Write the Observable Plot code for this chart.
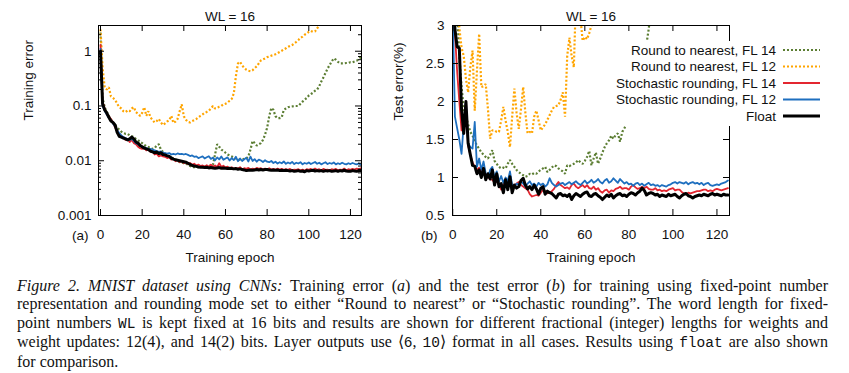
<!DOCTYPE html>
<html>
<head>
<meta charset="utf-8">
<script src="https://cdn.jsdelivr.net/npm/d3@7"></script>
<script src="https://cdn.jsdelivr.net/npm/@observablehq/plot@0.6"></script>
<style>
  html, body { margin: 0; padding: 0; background: #fff; }
  body { width: 849px; height: 373px; position: relative; overflow: hidden; }
  #pa { position: absolute; left: 0; top: 0; }
  #pb { position: absolute; left: 380px; top: 0; }
  #legend { position: absolute; left: 610px; top: 41px; }
  #caption { position: absolute; left: 17px; top: 277px; width: 811px;
    font-family: "Liberation Serif", "Times New Roman", serif; font-size: 16px; line-height: 18.4px; color: #111; }
  #caption .ln { text-align: justify; text-align-last: justify; }
  #caption .last { text-align-last: left; }
  #caption tt { font-family: "Liberation Mono", "DejaVu Sans Mono", monospace; font-size: 14.5px; }
</style>
</head>
<body>
<div id="pa"></div>
<div id="pb"></div>
<div id="legend"></div>
<div id="caption">
  <div class="ln"><i>Figure 2. MNIST dataset using CNNs:</i> Training error (<i>a</i>) and the test error (<i>b</i>) for training using fixed-point number</div>
  <div class="ln">representation and rounding mode set to either “Round to nearest” or “Stochastic rounding”. The word length for fixed-</div>
  <div class="ln">point numbers <tt>WL</tt> is kept fixed at 16 bits and results are shown for different fractional (integer) lengths for weights and</div>
  <div class="ln">weight updates: 12(4), and 14(2) bits. Layer outputs use ⟨<tt>6</tt>, <tt>10</tt>⟩ format in all cases. Results using <tt>float</tt> are also shown</div>
  <div class="ln last">for comparison.</div>
</div>
<script>
// ---------- data (index = training epoch) ----------
const seriesNames = ["Round to nearest, FL 14", "Round to nearest, FL 12", "Stochastic rounding, FL 14", "Stochastic rounding, FL 12", "Float"];
const xTicks = [0, 20, 40, 60, 80, 100, 120];
const yTicksA = [0.001, 0.01, 0.1, 1];
const yTicksB = [0.5, 1, 1.5, 2, 2.5, 3];
const panelTitle = "WL = 16";

// (a) training error
const rtn14A = [2.2,0.14,0.095,0.078,0.066,0.057,0.05,0.045,0.04,0.037,
  0.034,0.032,0.031,0.031,0.029,0.028,0.027,0.025,0.024,0.022,
  0.021,0.0195,0.0185,0.0178,0.017,0.0165,0.017,0.019,0.02,0.016,
  0.0145,0.0135,0.0128,0.012,0.0115,0.011,0.0105,0.01,0.0095,0.0093,
  0.009,0.0088,0.0085,0.008,0.0077,0.0076,0.0078,0.0076,0.0077,0.0076,
  0.0078,0.0079,0.008,0.0082,0.0085,0.013,0.02,0.018,0.016,0.015,
  0.014,0.013,0.0125,0.012,0.0115,0.011,0.0108,0.0105,0.0105,0.0108,
  0.011,0.012,0.016,0.023,0.021,0.019,0.02,0.021,0.024,0.03,
  0.04,0.065,0.092,0.085,0.065,0.06,0.06,0.062,0.085,0.09,
  0.095,0.097,0.098,0.1,0.1,0.1,0.11,0.12,0.13,0.14,
  0.155,0.165,0.175,0.19,0.2,0.23,0.28,0.33,0.4,0.48,
  0.56,0.65,0.74,0.7,0.64,0.6,0.6,0.6,0.61,0.61,
  0.63,0.63,0.65,0.67,0.72,0.78];
const rtn12A = [2.5,0.5,0.22,0.2,0.22,0.15,0.14,0.13,0.11,0.095,
  0.09,0.08,0.077,0.083,0.08,0.09,0.095,0.077,0.072,0.066,
  0.075,0.095,0.066,0.08,0.062,0.055,0.05,0.053,0.058,0.05,
  0.045,0.048,0.052,0.055,0.066,0.049,0.052,0.058,0.08,0.107,
  0.065,0.056,0.051,0.05,0.053,0.055,0.058,0.062,0.066,0.07,
  0.075,0.078,0.082,0.09,0.1,0.09,0.092,0.097,0.1,0.107,
  0.11,0.115,0.125,0.135,0.17,0.35,0.6,0.64,0.55,0.5,
  0.46,0.44,0.43,0.45,0.49,0.53,0.6,0.68,0.71,0.74,
  0.78,0.8,0.83,0.85,0.88,0.92,0.97,1.02,1.08,1.13,
  1.2,1.25,1.3,1.38,1.48,1.6,1.75,1.85,2.0,2.1,
  2.25,2.35,2.25,2.3,2.6,3.0,3.4,3.8];
const sr14A = [1.3,0.12,0.09,0.07,0.065,0.058,0.05,0.04,0.036,0.031,
  0.028,0.027,0.024,0.025,0.022,0.024,0.021,0.02,0.018,0.017,
  0.0165,0.017,0.0155,0.016,0.0145,0.015,0.013,0.0135,0.012,0.0125,
  0.012,0.0118,0.0112,0.0115,0.0105,0.011,0.0098,0.0102,0.0094,0.0099,
  0.009,0.0093,0.0087,0.0091,0.0085,0.0088,0.0082,0.0085,0.008,0.0082,
  0.0078,0.0083,0.0077,0.0085,0.0078,0.0082,0.0076,0.009,0.0077,0.0081,
  0.0075,0.0078,0.0072,0.0076,0.0071,0.0074,0.0072,0.0076,0.0070,0.0073,
  0.0071,0.0074,0.0069,0.0072,0.0070,0.0074,0.0071,0.0073,0.0069,0.0072,
  0.0070,0.0073,0.0069,0.0071,0.0068,0.0072,0.0069,0.0071,0.0068,0.0070,
  0.0068,0.0071,0.0067,0.0069,0.0068,0.0070,0.0067,0.0069,0.0066,0.0070,
  0.0068,0.0071,0.0067,0.0072,0.0068,0.0070,0.0067,0.0071,0.0068,0.0069,
  0.0067,0.0070,0.0068,0.0071,0.0067,0.0069,0.0068,0.0072,0.0067,0.0070,
  0.0068,0.0071,0.0069,0.0072,0.0070,0.0073];
const sr12A = [1.1,0.1,0.082,0.07,0.06,0.055,0.048,0.042,0.036,0.032,
  0.029,0.027,0.026,0.025,0.024,0.025,0.023,0.021,0.02,0.019,
  0.018,0.0175,0.017,0.0165,0.0165,0.016,0.0155,0.015,0.0145,0.0148,
  0.014,0.0138,0.0135,0.0138,0.013,0.0134,0.013,0.0136,0.0132,0.0134,
  0.013,0.0133,0.0128,0.0122,0.0125,0.0118,0.012,0.0112,0.0116,0.012,
  0.011,0.0116,0.0121,0.0108,0.0114,0.0102,0.0115,0.0106,0.012,0.0104,
  0.011,0.0115,0.0101,0.0112,0.0103,0.0118,0.0098,0.011,0.0099,0.0106,
  0.0113,0.0097,0.0119,0.0099,0.0107,0.0096,0.0105,0.0101,0.0095,0.0102,
  0.0096,0.0094,0.0099,0.0091,0.0096,0.0089,0.0094,0.009,0.0097,0.0088,
  0.0093,0.0089,0.0095,0.0087,0.0092,0.0089,0.0094,0.0086,0.0091,0.0088,
  0.0093,0.0087,0.0091,0.0095,0.0088,0.0092,0.0086,0.009,0.0094,0.0087,
  0.0091,0.0088,0.0093,0.0086,0.009,0.0087,0.0092,0.0088,0.0086,0.009,
  0.0087,0.0091,0.0088,0.0086,0.0089,0.0085];
const floatA = [1.0,0.11,0.085,0.075,0.062,0.053,0.05,0.045,0.033,0.028,
  0.027,0.026,0.025,0.024,0.025,0.027,0.025,0.022,0.021,0.019,
  0.018,0.017,0.0165,0.016,0.015,0.0145,0.014,0.0145,0.0135,0.014,
  0.013,0.0128,0.0123,0.012,0.0112,0.0107,0.0104,0.0102,0.0100,0.0098,
  0.0096,0.0094,0.0090,0.0086,0.0082,0.0080,0.0079,0.0077,0.0076,0.0076,
  0.0075,0.0076,0.0074,0.0075,0.0074,0.0073,0.0074,0.0075,0.0073,0.0074,
  0.0073,0.0072,0.0073,0.0072,0.0071,0.0072,0.0070,0.0071,0.0069,0.0068,
  0.0066,0.0067,0.0068,0.0067,0.0068,0.0069,0.0068,0.0069,0.0068,0.0069,
  0.0069,0.0068,0.0067,0.0068,0.0067,0.0068,0.0066,0.0067,0.0066,0.0067,
  0.0066,0.0065,0.0066,0.0064,0.0065,0.0066,0.0064,0.0065,0.0063,0.0066,
  0.0065,0.0066,0.0067,0.0065,0.0066,0.0065,0.0066,0.0064,0.0066,0.0065,
  0.0066,0.0064,0.0065,0.0066,0.0064,0.0066,0.0065,0.0067,0.0065,0.0064,
  0.0064,0.0066,0.0065,0.0064,0.0066,0.0066];

// (b) test error (%)
const rtn14B = [4.0,3.5,3.2,2.6,2.2,1.9,1.8,1.7,1.6,1.55,
  1.48,1.42,1.38,1.33,1.3,1.27,1.25,1.3,1.36,1.22,
  1.18,1.14,1.12,1.13,1.12,1.18,1.23,1.18,1.14,1.1,
  1.07,1.05,1.03,1.01,1.02,1.05,1.04,1.06,1.05,1.08,
  1.1,1.12,1.14,1.07,1.1,1.13,1.16,1.15,1.12,1.1,
  1.08,1.05,1.16,1.15,1.17,1.18,1.2,1.23,1.2,1.18,
  1.22,1.27,1.35,1.16,1.25,1.33,1.18,1.25,1.33,1.4,
  1.45,1.49,1.55,1.51,1.56,1.58,1.47,1.6,1.65,1.71,
  1.82,1.93,2.05,2.17,2.3,2.42,2.55,2.65,2.76,2.95,
  3.2,3.5];
const rtn12B = [5.0,4.5,3.6,2.97,2.71,2.6,2.3,2.12,2.45,2.67,
  1.88,2.4,2.89,2.19,2.2,2.23,1.9,1.51,1.62,1.62,
  1.6,1.6,1.75,1.93,1.75,1.6,1.4,1.8,2.17,1.85,
  1.64,1.9,2.19,1.85,1.58,1.6,1.58,1.8,1.88,1.75,
  1.62,1.66,1.7,1.76,1.82,1.88,1.93,1.94,1.95,2.02,
  2.12,1.8,2.6,2.84,2.6,2.45,3.4,3.6,3.1,2.8,
  2.85,2.82,2.9,3.0,3.3,3.6];
const sr14B = [3.5,2.9,2.4,2.0,1.62,1.75,1.92,1.42,1.3,1.2,
  1.14,1.1,1.13,1.08,1.05,1.05,1.0,0.98,0.97,0.93,
  0.95,0.9,0.84,0.9,0.95,0.97,0.9,0.88,0.9,0.92,
  0.94,0.9,0.88,0.86,0.84,0.78,0.75,0.76,0.77,0.76,
  0.8,0.84,0.82,0.79,0.8,0.82,0.85,0.9,0.94,0.9,
  0.88,0.86,0.87,0.85,0.9,0.92,0.88,0.86,0.88,0.9,
  0.87,0.9,0.86,0.85,0.88,0.84,0.86,0.82,0.8,0.83,
  0.84,0.8,0.83,0.82,0.85,0.86,0.88,0.85,0.86,0.86,
  0.84,0.88,0.9,0.87,0.85,0.86,0.88,0.86,0.88,0.85,
  0.84,0.84,0.86,0.83,0.84,0.82,0.83,0.82,0.84,0.85,
  0.86,0.83,0.84,0.84,0.81,0.79,0.78,0.8,0.79,0.8,
  0.81,0.82,0.82,0.83,0.84,0.84,0.82,0.83,0.82,0.84,
  0.85,0.84,0.83,0.84,0.85,0.86];
const sr12B = [3.2,1.8,1.65,1.5,1.31,1.7,2.0,1.45,1.4,1.38,
  1.73,1.14,1.25,1.1,1.21,1.05,1.0,1.1,1.14,1.0,
  1.08,0.95,1.02,0.93,1.0,0.95,1.08,0.9,0.88,0.92,
  0.9,0.95,0.92,0.88,0.92,0.95,0.9,0.92,0.88,0.93,
  0.9,0.92,0.88,0.91,0.99,0.93,0.9,0.88,0.9,0.92,
  0.93,0.9,0.92,0.94,0.91,0.93,0.95,0.92,0.9,0.93,
  0.96,0.92,0.94,0.97,0.93,0.95,0.98,0.94,0.92,0.96,
  0.98,0.93,0.95,0.99,0.96,0.93,0.98,0.95,0.92,0.94,
  0.91,0.92,0.89,0.92,0.93,0.9,0.92,0.89,0.91,0.93,
  0.9,0.91,0.89,0.9,0.88,0.9,0.89,0.88,0.9,0.91,
  0.93,0.94,0.92,0.94,0.93,0.92,0.94,0.91,0.93,0.94,
  0.92,0.93,0.91,0.93,0.9,0.92,0.93,0.9,0.89,0.9,
  0.91,0.9,0.92,0.93,0.94,0.96];
const floatB = [3.6,2.95,2.72,2.7,1.9,1.58,2.0,1.45,1.3,1.16,
  1.15,1.05,1.1,1.0,1.12,0.97,1.05,0.98,1.1,0.9,
  1.05,0.88,0.92,0.8,0.97,0.84,1.01,0.8,0.9,0.86,
  0.88,0.96,0.99,0.9,0.85,0.88,0.84,0.9,0.85,0.78,
  0.86,0.88,0.78,0.82,0.8,0.79,0.76,0.73,0.78,0.79,
  0.76,0.77,0.75,0.78,0.71,0.76,0.79,0.77,0.75,0.78,
  0.8,0.81,0.76,0.75,0.78,0.79,0.76,0.74,0.71,0.74,
  0.77,0.75,0.78,0.73,0.76,0.78,0.79,0.76,0.77,0.75,
  0.78,0.8,0.79,0.77,0.8,0.82,0.86,0.83,0.77,0.79,
  0.8,0.79,0.77,0.78,0.75,0.77,0.76,0.75,0.78,0.76,
  0.77,0.78,0.75,0.73,0.76,0.78,0.79,0.76,0.75,0.73,
  0.75,0.76,0.77,0.76,0.78,0.77,0.76,0.78,0.79,0.77,
  0.78,0.77,0.76,0.78,0.77,0.77];

// ---------- styles ----------
const GREEN = "#5c7e33", ORANGE = "#ffa500", RED = "#e32630", BLUE = "#1e6fbf", BLACK = "#000";
const styles = [
  {color: GREEN, width: 2.2, dash: "2,2"},
  {color: ORANGE, width: 2.2, dash: "2,2"},
  {color: RED, width: 1.8, dash: null},
  {color: BLUE, width: 1.8, dash: null},
  {color: BLACK, width: 3, dash: null}
];
const FONT = "'Liberation Sans', Arial, sans-serif";

function lines(arrs) {
  return arrs.map((arr, k) => Plot.line(arr, {
    x: (d, i) => i, y: d => d,
    stroke: styles[k].color, strokeWidth: styles[k].width,
    strokeDasharray: styles[k].dash,
    strokeLinecap: styles[k].dash ? "butt" : "round",
    strokeLinejoin: styles[k].dash ? "miter" : "round", clip: true
  }));
}

function frameTicks(xt, ytMajor, ytMinor, fw, fh) {
  return [
    Plot.tickX(xt, {x: d => d, insetTop: fh - 6, stroke: "#000"}),
    Plot.tickX(xt, {x: d => d, insetBottom: fh - 6, stroke: "#000"}),
    Plot.tickY(ytMajor, {y: d => d, insetRight: fw - 6, stroke: "#000"}),
    Plot.tickY(ytMajor, {y: d => d, insetLeft: fw - 6, stroke: "#000"}),
    Plot.tickY(ytMinor, {y: d => d, insetRight: fw - 3, stroke: "#000"}),
    Plot.tickY(ytMinor, {y: d => d, insetLeft: fw - 3, stroke: "#000"})
  ];
}

function labels(titleText, yLabel, yLabelDx, panelTag, tagDx) {
  const t = {fontSize: 13.5, lineAnchor: "middle"};
  return [
    Plot.text([titleText], {...t, frameAnchor: "top", dy: -9}),
    Plot.text(["Training epoch"], {...t, frameAnchor: "bottom", dy: 42}),
    Plot.text([yLabel], {...t, frameAnchor: "left", dx: yLabelDx, rotate: -90}),
    Plot.text([panelTag], {...t, frameAnchor: "bottom-left", dx: tagDx, dy: 20, textAnchor: "end"})
  ];
}

const H = 268, MT = 25, MB = 53;
const minorA = [];
for (const dec of [0.001, 0.01, 0.1, 1]) for (let m = 2; m <= 9; m++) if (dec * m <= 2.95) minorA.push(dec * m);

// ---------- panel (a) ----------
{
  const W = 380, ML = 98, MR = 19;
  const fw = W - ML - MR, fh = H - MT - MB;
  const p = Plot.plot({
    width: W, height: H, marginLeft: ML, marginRight: MR, marginTop: MT, marginBottom: MB,
    x: {domain: [-0.96, 125.3]},
    y: {type: "log", domain: [0.001, 2.95]},
    style: {fontFamily: FONT, fontSize: "13.5px", color: "#111", background: "transparent", overflow: "visible"},
    marks: [
      ...lines([rtn14A, rtn12A, sr14A, sr12A, floatA]),
      Plot.frame({stroke: "#000"}),
      ...frameTicks(xTicks, yTicksA, minorA, fw, fh),
      Plot.axisX(xTicks, {tickSize: 0, tickPadding: 14, label: null, fontSize: 13.5}),
      Plot.axisY(yTicksA, {tickSize: 0, tickPadding: 7, label: null, tickFormat: d => String(d), fontSize: 13.5}),
      ...labels(panelTitle, "Training error", -70, "(a)", -10)
    ]
  });
  document.getElementById("pa").appendChild(p);
}

// ---------- panel (b) ----------
{
  const W = 469, ML = 72, MR = 120;
  const fw = W - ML - MR, fh = H - MT - MB;
  const p = Plot.plot({
    width: W, height: H, marginLeft: ML, marginRight: MR, marginTop: MT, marginBottom: MB,
    x: {domain: [-0.1, 125.7]},
    y: {domain: [0.5, 3]},
    style: {fontFamily: FONT, fontSize: "13.5px", color: "#111", background: "transparent", overflow: "visible"},
    marks: [
      ...lines([rtn14B, rtn12B, sr14B, sr12B, floatB]),
      Plot.frame({stroke: "#000"}),
      ...frameTicks(xTicks, yTicksB, [], fw, fh),
      Plot.axisX(xTicks, {tickSize: 0, tickPadding: 14, label: null, fontSize: 13.5}),
      Plot.axisY(yTicksB, {tickSize: 0, tickPadding: 8, label: null, tickFormat: d => String(d), fontSize: 13.5}),
      ...labels(panelTitle, "Test error(%)", -54, "(b)", -15)
    ]
  });
  document.getElementById("pb").appendChild(p);
}

// ---------- legend (panel b) ----------
{
  const svg = d3.select("#legend").append("svg").attr("width", 220).attr("height", 85)
    .style("font-family", FONT).style("font-size", "13.5px");
  svg.append("rect").attr("width", 220).attr("height", 85).attr("fill", "#fff");
  seriesNames.forEach((name, k) => {
    const y = 9 + k * 16.5;
    svg.append("text").attr("x", 166).attr("y", y).attr("dy", "0.35em")
      .attr("text-anchor", "end").attr("fill", "#111").text(name);
    svg.append("line").attr("x1", 173).attr("x2", 210).attr("y1", y).attr("y2", y)
      .attr("stroke", styles[k].color).attr("stroke-width", styles[k].width)
      .attr("stroke-dasharray", styles[k].dash);
  });
}
</script>
</body>
</html>
